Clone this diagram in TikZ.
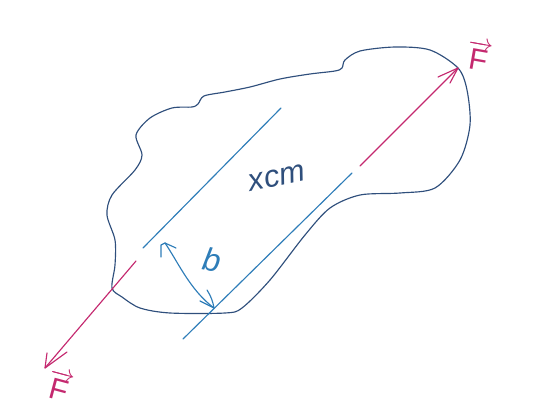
\documentclass[tikz,border=0pt]{standalone}
\usepackage{fontspec}
\setmainfont{Liberation Sans}
\begin{document}
\begin{tikzpicture}[x=1pt,y=-1pt,
  outline/.style={draw=darkink,line width=1.15pt,line cap=round,line join=round},
  measure/.style={draw=blueink,line width=1.15pt,line cap=round,line join=round},
  force/.style={draw=pinkink,line width=1.15pt,line cap=round,line join=round},
  lbl/.style={inner sep=0pt,outer sep=0pt}]
\definecolor{darkink}{HTML}{2F4F7C}
\definecolor{blueink}{HTML}{2E7DB8}
\definecolor{pinkink}{HTML}{C4296F}
\useasboundingbox (0,0) rectangle (536,415);
\draw[outline] plot[smooth cycle,tension=0.5] coordinates {
 (204,96) (225,92) (250,87) (280,79) (310,74) (335,71) (342,68) (345,60) (360,51)
 (395,47) (430,50) (458,68) (467,90) (470,125) (460,160) (435,188) (400,193)
 (360,195) (330,208) (305,235) (270,280) (242,308) (225,313) (170,313) (140,308)
 (122,297) (112,288) (115,265) (115,240) (107,215) (112,195) (135,170) (142,155) (136,135) (150,118)
 (172,108) (192,107) (198,104)};
% measure lines
\coordinate (m1a) at (143,248); \coordinate (m1b) at (281,108);
\coordinate (m2a) at (183,339); \coordinate (m2b) at (352,173);
\draw[measure] (m1a) -- (m1b);
\draw[measure] (m2a) -- (m2b);
% width arrow
\coordinate (wa) at (165,243); \coordinate (wb) at (214,308);
\draw[measure] (wa) .. controls (178,262) and (190,290) .. (wb);
\draw[measure] (161,257) -- (161,245) -- (wa) -- (176,248);
\draw[measure] (207,290) .. controls (211,296) and (213,302) .. (wb) -- (200,301);
% forces
\coordinate (fa) at (136,261); \coordinate (fb) at (45,368);
\coordinate (ga) at (360,166); \coordinate (gb) at (458,68);
\draw[force] (fa) -- (fb);
\draw[force] (47,353) -- (fb) -- (67,352);
\draw[force] (ga) -- (gb);
\draw[force] (438,77) -- (gb) -- (450,83);
% labels
\node[lbl,text=darkink,rotate=12,font=\fontsize{31}{31}\selectfont\itshape] (xcm) at (277,178) {xcm};
\node[lbl,text=blueink,rotate=-10,font=\fontsize{32}{32}\selectfont\itshape] (b) at (212,260) {b};
\node[lbl,text=pinkink,rotate=-10,font=\fontsize{30}{30}\selectfont] (f1) at (479,56) {$\overrightarrow{\mbox{F}}$};
\node[lbl,text=pinkink,rotate=-15,font=\fontsize{30}{30}\selectfont] (f2) at (60,386) {$\overrightarrow{\mbox{F}}$};
\end{tikzpicture}
\end{document}
